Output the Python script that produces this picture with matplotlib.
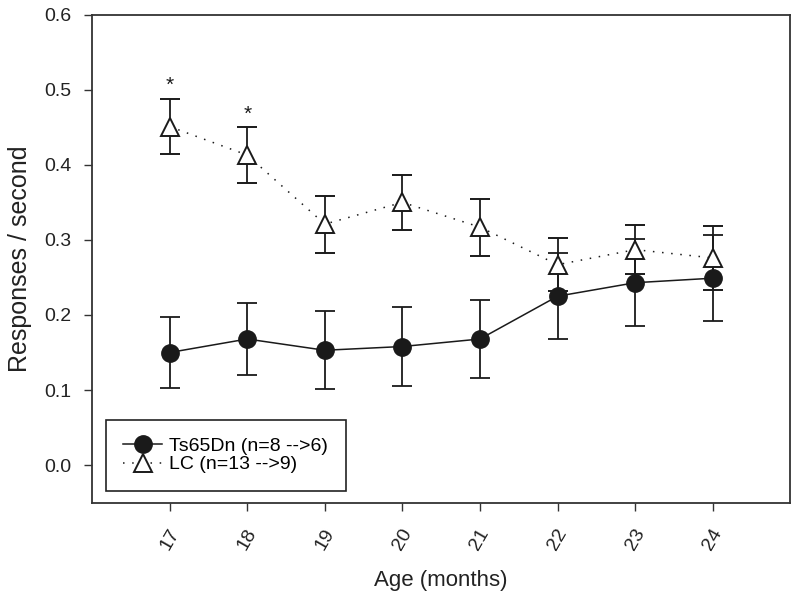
import numpy as np
import matplotlib
matplotlib.use("Agg")
from matplotlib import pyplot as plt
from matplotlib.lines import Line2D

plt.rcParams['font.family'] = ['Liberation Sans', 'DejaVu Sans']

# datos
edad = [17, 18, 19, 20, 21, 22, 23, 24]
ts_media = [0.150, 0.168, 0.153, 0.158, 0.168, 0.225, 0.243, 0.249]
ts_err = [0.047, 0.048, 0.052, 0.052, 0.052, 0.057, 0.058, 0.057]
lc_media = [0.451, 0.413, 0.321, 0.350, 0.317, 0.267, 0.287, 0.276]
lc_err = [0.037, 0.037, 0.038, 0.037, 0.038, 0.035, 0.033, 0.043]
asteriscos = [17, 18]
etiquetas = ["Ts65Dn (n=8 -->6)", "LC (n=13 -->9)"]

negro = "#1a1a1a"
punteado = (0, (1, 5))

fig = plt.figure(figsize=(8, 6.01), dpi=100)
ax = fig.add_axes([0.115, 0.1636, 0.873, 0.812])

ax.errorbar(edad, ts_media, yerr=ts_err, color=negro, lw=1.1,
            marker="o", ms=12.5, mfc=negro, mec=negro,
            capsize=7.5, capthick=1.3, elinewidth=1.3, zorder=3)
ax.errorbar(edad, lc_media, yerr=lc_err, color=negro, lw=1.1,
            ls=punteado, marker="^", ms=12.5, mfc="white",
            mec=negro, mew=1.4, capsize=7.5, capthick=1.3,
            elinewidth=1.3, zorder=4)

# asteriscos sobre las barras de error
for a in asteriscos:
    i = edad.index(a)
    ax.text(a, lc_media[i] + lc_err[i] + 0.005, "*", ha="center",
            va="bottom", fontsize=15, color=negro)

ax.set_xlim(16, 25)
ax.set_ylim(-0.05, 0.6)
ax.set_xticks(edad)
ax.set_xticklabels([str(e) for e in edad], rotation=60, ha="center",
                   fontsize=14, color="#222222")
ax.set_yticks(np.arange(0, 0.61, 0.1))
ax.set_yticklabels([f"{v:.1f}" for v in np.arange(0, 0.61, 0.1)],
                   fontsize=14, color="#222222")
ax.tick_params(direction="out", length=5.5, width=1, color="#333333")
ax.tick_params(axis="x", pad=11)
ax.tick_params(axis="y", pad=9)

for s in ax.spines.values():
    s.set_color("#333333")
    s.set_linewidth(1.3)

ax.set_xlabel("Age (months)", fontsize=16, color="#222222")
ax.set_ylabel("Responses / second", fontsize=18, color="#222222")
ax.xaxis.set_label_coords(0.5, -0.138)
ax.yaxis.set_label_coords(-0.086, 0.5)

# leyenda sin barras de error
manejadores = [
    Line2D([], [], color=negro, lw=1.1, marker="o", ms=12.5,
           mfc=negro, mec=negro),
    Line2D([], [], color=negro, lw=1.1, ls=punteado, marker="^", ms=12.5,
           mfc="white", mec=negro, mew=1.4),
]
leg = ax.legend(manejadores, etiquetas, loc="lower left",
                bbox_to_anchor=(0.02, 0.024), borderaxespad=0,
                fontsize=14, fancybox=False, edgecolor="#222222",
                framealpha=1, handlelength=2.0, handletextpad=0.35,
                labelspacing=0.05, borderpad=0.9)
leg.get_frame().set_linewidth(1.2)

plt.savefig("out.png", dpi=100)
